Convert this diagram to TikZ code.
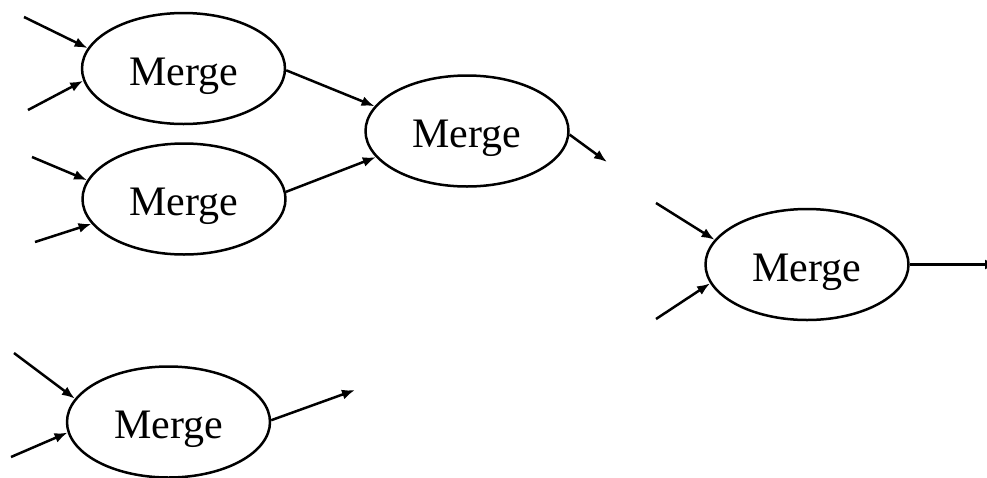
\documentclass[tikz,border=0pt]{standalone}
\usepackage{fontspec}
\setmainfont{Liberation Serif}
\usepackage{tikz}
\usetikzlibrary{arrows.meta,shapes.geometric}

\tikzset{
  mergenode/.style={ellipse,draw,line width=2.5pt,inner sep=0pt,
    minimum width=203pt,minimum height=111pt,
    font=\fontsize{42}{50}\selectfont,text height=33pt,text depth=0pt},
  feed/.style={-{Latex[length=13pt,width=10pt]},line width=2.5pt},
}

\begin{document}
\begin{tikzpicture}[x=1pt,y=-1pt,line join=round]
  \useasboundingbox (0,0) rectangle (987,477);
  \node[mergenode] (M1) at (183.5,68.5) {Merge};
  \node[mergenode] (M2) at (184.0,199.0) {Merge};
  \node[mergenode] (M3) at (467.0,131.0) {Merge};
  \node[mergenode] (M4) at (807.0,264.5) {Merge};
  \node[mergenode] (M5) at (168.5,422.0) {Merge};
  \coordinate (I1a) at (24,17);
  \coordinate (I1b) at (28,110);
  \coordinate (I2a) at (32,157);
  \coordinate (I2b) at (35,242);
  \coordinate (O3) at (607,162);
  \coordinate (I4a) at (656,203);
  \coordinate (I4b) at (656,319);
  \coordinate (O4) at (998,264.5);
  \coordinate (I5a) at (14,353);
  \coordinate (I5b) at (11,457);
  \coordinate (O5) at (355,390);
  % first stage
  \draw[feed] (I1a) -- (M1.168);
  \draw[feed] (I1b) -- (M1.-173);
  \draw[feed] (I2a) -- (M2.169);
  \draw[feed] (I2b) -- (M2.-165);
  \draw[feed] (M1.-1) -- (M3.165);
  \draw[feed] (M2.4) -- (M3.-164);
  \draw[feed] (M3.-2) -- (O3);
  % second stage
  \draw[feed] (I4a) -- (M4.165);
  \draw[feed] (I4b) -- (M4.-169);
  \draw[feed] (M4.east) -- (O4);
  \draw[feed] (I5a) -- (M5.166);
  \draw[feed] (I5b) -- (M5.-174);
  \draw[feed] (M5.1) -- (O5);
\end{tikzpicture}
\end{document}
